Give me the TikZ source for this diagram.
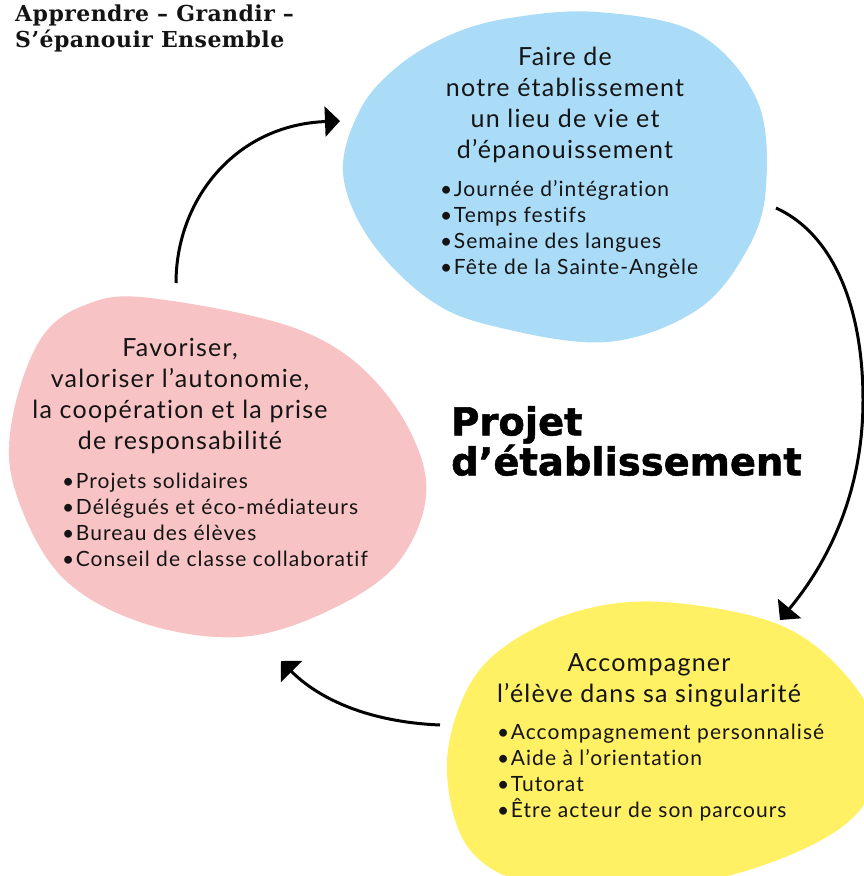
\documentclass[tikz,border=0pt]{standalone}
\usepackage{fontspec}
\setmainfont{Lato}[LetterSpace=5,Ligatures=NoCommon]
\newfontfamily\titlefont{DejaVu Serif}[LetterSpace=2]
\newfontfamily\heavyfont{DejaVu Sans}[BoldFeatures={FakeBold=1.4}]
\usetikzlibrary{arrows.meta}
\definecolor{blueblob}{RGB}{170,220,248}
\definecolor{pinkblob}{RGB}{247,195,196}
\definecolor{yellowblob}{RGB}{255,240,100}
\definecolor{ink}{RGB}{20,20,20}
\begin{document}
\begin{tikzpicture}[x=1pt,y=-1pt,
  head/.style={inner sep=0pt, align=center, font=\fontsize{25}{31}\selectfont, text=ink},
  items/.style={inner sep=0pt, align=left, font=\fontsize{21}{26}\selectfont, text=ink, anchor=west},
  cyc/.style={line width=3pt, -{Triangle[length=15pt,width=30pt]}}]
\useasboundingbox (0,0) rectangle (864,876);
\begin{scope}
\clip (0,0) rectangle (864,876);
\fill[blueblob] plot[smooth cycle, tension=0.6] coordinates {
 (597,12) (697,33) (757,100) (766,187) (747,250) (697,310) (607,342)
 (497,327) (430,300) (370,240) (343,173) (360,110) (397,67) (450,35) (510,18)};
\fill[pinkblob] plot[smooth cycle, tension=0.6] coordinates {
 (150,298) (300,330) (383,390) (426,480) (400,560) (330,610) (240,637)
 (140,622) (60,575) (15,490) (12,420) (40,340) (85,305)};
\fill[yellowblob] plot[smooth cycle, tension=0.6] coordinates {
 (663,602) (780,625) (850,680) (880,745) (860,810) (790,855) (680,885)
 (540,885) (470,850) (447,773) (462,700) (500,650) (575,612)};
\end{scope}

\node[inner sep=0pt, anchor=north west, align=left, text=ink,
  font=\titlefont\bfseries\fontsize{22}{26}\selectfont] (title) at (15,4.5)
  {Apprendre – Grandir –\\S’épanouir Ensemble};

\node[head] (bluehead) at (565,105)
  {Faire de\\notre établissement\\un lieu de vie et\\d’épanouissement};
\node[items] (blueitems) at (440,229)
  {•\hspace{1.5pt}Journée d’intégration\\•\hspace{1.5pt}Temps festifs\\•\hspace{1.5pt}Semaine des langues\\•\hspace{1.5pt}Fête de la Sainte-Angèle};

\node[head] (pinkhead) at (180,396)
  {Favoriser,\\valoriser l’autonomie,\\la coopération et la prise\\de responsabilité};
\node[items] (pinkitems) at (62,520)
  {•\hspace{1.5pt}Projets solidaires\\•\hspace{1.5pt}Délégués et éco-médiateurs\\•\hspace{1.5pt}Bureau des élèves\\•\hspace{1.5pt}Conseil de classe collaboratif};

\node[head] (yellowhead) at (649,680)
  {Accompagner\\l’élève dans sa singularité};
\node[items] (yellowitems) at (497,773)
  {•\hspace{1.5pt}Accompagnement personnalisé\\•\hspace{1.5pt}Aide à l’orientation\\•\hspace{1.5pt}Tutorat\\•\hspace{1.5pt}Être acteur de son parcours};

\node[inner sep=0pt, anchor=west, align=left, text=black,
  font=\heavyfont\bfseries\fontsize{38.5}{40}\selectfont] (center) at (451,441)
  {Projet\\d’établissement};

\coordinate (a1s) at (176,283);
\coordinate (a1e) at (340,121);
\coordinate (a2s) at (776,208);
\coordinate (a2m) at (863,400);
\coordinate (a2e) at (780,620);
\coordinate (a3s) at (440,725);
\coordinate (a3e) at (281,661);

\draw[cyc] (a1s) .. controls (176,200) and (235,125) .. (a1e);
\draw[cyc] (a2s) .. controls (835,235) and (863,310) .. (a2m)
  .. controls (863,490) and (830,560) .. (a2e);
\draw[cyc] (a3s) .. controls (370,722) and (320,700) .. (a3e);
\end{tikzpicture}
\end{document}
